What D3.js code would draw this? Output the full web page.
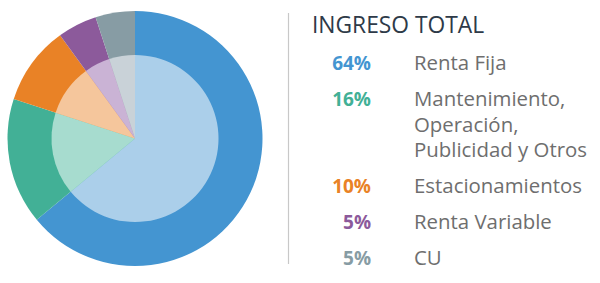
<!DOCTYPE html>
<html>
<head>
<meta charset="utf-8">
<script src="https://cdn.jsdelivr.net/npm/d3@7"></script>
<style>
  body { margin: 0; background: #fff; }
  text { font-family: "Open Sans", "Noto Sans", sans-serif; }
</style>
</head>
<body>
<svg id="chart" width="600" height="283"></svg>
<script>
/* DATA */
const categories = ["Renta Fija", "Mantenimiento, Operación, Publicidad y Otros", "Estacionamientos", "Renta Variable", "CU"];
const values = [64, 16, 10, 5, 5];
const labelLines = [["Renta Fija"], ["Mantenimiento,", "Operación,", "Publicidad y Otros"], ["Estacionamientos"], ["Renta Variable"], ["CU"]];
const outerColors = ["#4495d1", "#42b096", "#e98226", "#8c5a9b", "#879ca4"];
const innerColors = ["#abcfea", "#a7dccf", "#f5c69c", "#cab3d5", "#c9d2d8"];
const title = "INGRESO TOTAL";

const svg = d3.select("#chart");
const cx = 135, cy = 138.5, rOuter = 127.5, rInner = 83.5;

const pie = d3.pie().sort(null).value(d => d);
const arcs = pie(values);

const g = svg.append("g").attr("transform", `translate(${cx},${cy})`);

g.selectAll(".outer")
  .data(arcs)
  .join("path")
  .attr("class", "outer")
  .attr("d", d3.arc().innerRadius(0).outerRadius(rOuter))
  .attr("fill", (d, i) => outerColors[i]);

g.selectAll(".inner")
  .data(arcs)
  .join("path")
  .attr("class", "inner")
  .attr("d", d3.arc().innerRadius(0).outerRadius(rInner))
  .attr("fill", (d, i) => innerColors[i]);

// divider
svg.append("line")
  .attr("x1", 288.5).attr("x2", 288.5)
  .attr("y1", 13).attr("y2", 264)
  .attr("stroke", "#c8c8c8").attr("stroke-width", 1.2);

svg.append("text")
  .attr("x", 312).attr("y", 33)
  .attr("font-size", 22.8)
  .attr("fill", "#2e3a48")
  .text(title);

// legend rows: baseline of first line of each item
const rowY = d3.scaleOrdinal().domain(categories).range([70, 106, 193, 229, 265]);
const lineGap = 25.7;

const rows = svg.selectAll(".row")
  .data(categories)
  .join("g")
  .attr("class", "row")
  .attr("transform", d => `translate(0,${rowY(d)})`);

rows.append("text")
  .attr("x", 371)
  .attr("text-anchor", "end")
  .attr("font-size", 19)
  .attr("font-weight", 700)
  .attr("fill", (d, i) => outerColors[i])
  .text((d, i) => values[i] + "%");

rows.append("text")
  .attr("x", 414)
  .attr("font-size", 20.4)
  .attr("fill", "#6e6e6e")
  .selectAll("tspan")
  .data((d, i) => labelLines[i])
  .join("tspan")
  .attr("x", 414)
  .attr("y", (d, j) => j * lineGap)
  .text(d => d);
</script>
</body>
</html>
